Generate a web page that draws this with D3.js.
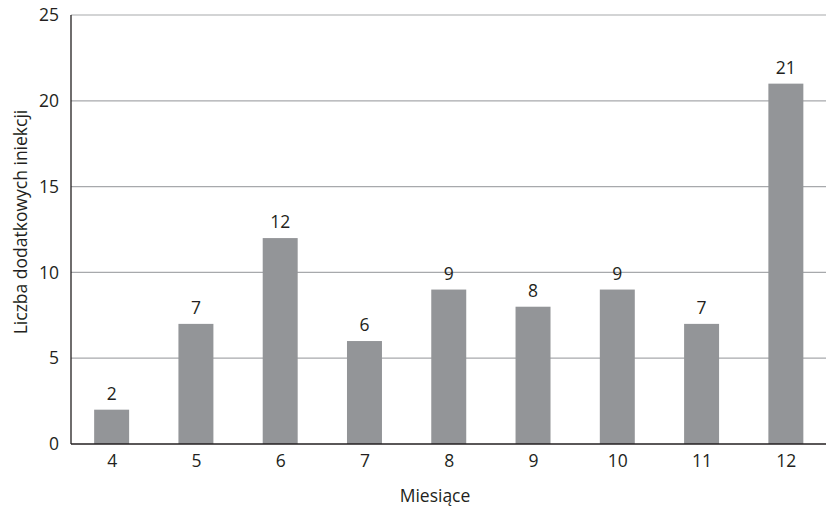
<!DOCTYPE html>
<html>
<head>
<meta charset="utf-8">
<script src="https://cdn.jsdelivr.net/npm/d3@7"></script>
<style>
  html, body { margin: 0; padding: 0; background: #fff; }
  svg { display: block; font-family: "Open Sans", sans-serif; }
</style>
</head>
<body>
<svg id="chart" width="826" height="508"></svg>
<script>
// Months and the number of additional injections in each
const months = ["4", "5", "6", "7", "8", "9", "10", "11", "12"];
const injections = [2, 7, 12, 6, 9, 8, 9, 7, 21];
const yTicks = [0, 5, 10, 15, 20, 25];
const xTitle = "Miesiące";
const yTitle = "Liczba dodatkowych iniekcji";

const svg = d3.select("#chart");
const W = 826, H = 508;
const left = 71, baseY = 444, topY = 15;
const fs = 17.5;

const x = d3.scalePoint().domain(months).range([69.5, 828]).padding(0.5);
const y = d3.scaleLinear().domain([0, 25]).range([baseY, topY]);
const barW = x.step() * 0.415;

// horizontal gridlines
svg.append("g")
  .selectAll("line")
  .data(yTicks.filter(d => d > 0))
  .join("line")
  .attr("x1", left).attr("x2", W)
  .attr("y1", d => y(d)).attr("y2", d => y(d))
  .attr("stroke", "#a7a9ac").attr("stroke-width", 1.2);

// bars
svg.append("g")
  .selectAll("rect")
  .data(months)
  .join("rect")
  .attr("x", (d) => x(d) - barW / 2)
  .attr("width", barW)
  .attr("y", (d, i) => y(injections[i]))
  .attr("height", (d, i) => baseY - y(injections[i]))
  .attr("fill", "#939598");

// value labels
svg.append("g")
  .selectAll("text")
  .data(months)
  .join("text")
  .attr("x", d => x(d))
  .attr("y", (d, i) => y(injections[i]) - 10)
  .attr("text-anchor", "middle")
  .attr("font-size", fs)
  .attr("fill", "#231f20")
  .text((d, i) => injections[i]);

// y axis
const yAxis = d3.axisLeft(y).tickValues(yTicks).tickSize(0).tickPadding(12);
const gy = svg.append("g").attr("transform", `translate(${left},0)`).call(yAxis);
gy.select(".domain").attr("stroke", "#231f20").attr("stroke-width", 1.3)
  .attr("d", `M0,${topY}V${baseY}`);
gy.selectAll("text").attr("font-size", fs).attr("fill", "#231f20")
  .attr("font-family", "'Open Sans', sans-serif");

// x axis
const xAxis = d3.axisBottom(x).tickSize(0).tickPadding(11);
const gx = svg.append("g").attr("transform", `translate(0,${baseY})`).call(xAxis);
gx.select(".domain").attr("d", `M${left},0H${W}`).attr("stroke", "#231f20").attr("stroke-width", 1.6);
gx.selectAll("text").attr("font-size", fs).attr("fill", "#231f20")
  .attr("font-family", "'Open Sans', sans-serif");

// axis titles
svg.append("text")
  .attr("x", 435).attr("y", 502)
  .attr("text-anchor", "middle")
  .attr("font-size", fs).attr("fill", "#231f20")
  .text(xTitle);

svg.append("text")
  .attr("transform", "translate(27,222) rotate(-90)")
  .attr("text-anchor", "middle")
  .attr("font-size", fs).attr("fill", "#231f20")
  .text(yTitle);
</script>
</body>
</html>
